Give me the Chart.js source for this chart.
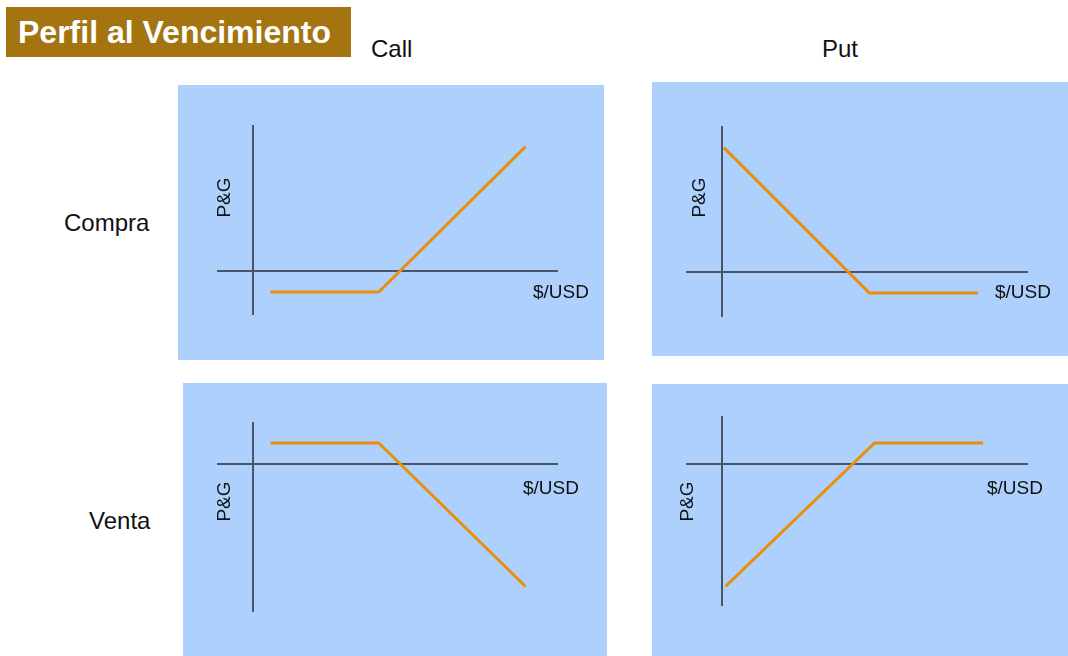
<!DOCTYPE html>
<html>
<head>
<meta charset="utf-8">
<script src="https://cdn.jsdelivr.net/npm/chart.js@4.4.0/dist/chart.umd.min.js"></script>
<style>
  body { margin: 0; background: #fff; width: 1068px; height: 656px; position: relative; overflow: hidden;
         font-family: "Liberation Sans", Arial, sans-serif; color: #111; }
  .lbl { position: absolute; line-height: 1; white-space: nowrap; }
  .title-box { position: absolute; left: 6px; top: 7px; width: 345px; height: 50px; background: #a3740f; }
  .title-box span { position: absolute; left: 12px; top: 9px; font-size: 32px; font-weight: bold; color: #fff; line-height: 1; white-space: nowrap; }
  canvas { position: absolute; background: #aed0fd; }
  .axis-x { font-size: 19px; }
  .axis-y { font-size: 19px; width: 60px; text-align: center; transform: rotate(-90deg); }
</style>
</head>
<body>
<div class="title-box"><span>Perfil al Vencimiento</span></div>
<div class="lbl" style="left:371px;top:37px;font-size:24px;">Call</div>
<div class="lbl" style="left:822px;top:37px;font-size:24px;">Put</div>
<div class="lbl" style="left:64px;top:211px;font-size:24px;">Compra</div>
<div class="lbl" style="left:89px;top:509px;font-size:24px;">Venta</div>

<canvas id="callBuy" width="426" height="275" style="left:178px;top:85px"></canvas>
<canvas id="putBuy" width="416" height="274" style="left:652px;top:82px"></canvas>
<canvas id="callSell" width="424" height="273" style="left:183px;top:383px"></canvas>
<canvas id="putSell" width="416" height="272" style="left:652px;top:384px"></canvas>

<div class="lbl axis-x" style="left:533px;top:282px">$/USD</div>
<div class="lbl axis-x" style="left:995px;top:282px">$/USD</div>
<div class="lbl axis-x" style="left:523px;top:478px">$/USD</div>
<div class="lbl axis-x" style="left:987px;top:478px">$/USD</div>

<div class="lbl axis-y" style="left:193px;top:188px">P&amp;G</div>
<div class="lbl axis-y" style="left:668px;top:188px">P&amp;G</div>
<div class="lbl axis-y" style="left:193px;top:492px">P&amp;G</div>
<div class="lbl axis-y" style="left:656px;top:492px">P&amp;G</div>

<script>
// payoff profiles at expiry (price -> P&G)
const callBuyX = [5, 36, 78];
const callBuyY = [-6, -6, 35.5];
const putBuyX = [0.5, 42, 73];
const putBuyY = [35.5, -6, -6];
const callSellX = [5, 36, 78];
const callSellY = [6, 6, -35];
const putSellX = [1, 43.5, 74.5];
const putSellY = [-35, 6, 6];

const axisColor = '#4b5567';
const lineColor = '#e8900c';

function toPoints(xs, ys) {
  return xs.map((x, i) => ({ x: x, y: ys[i] }));
}

function makeChart(id, xs, ys, yMin, yMax, pad) {
  const ctx = document.getElementById(id).getContext('2d');
  return new Chart(ctx, {
    type: 'scatter',
    data: {
      datasets: [{
        data: toPoints(xs, ys),
        showLine: true,
        borderColor: lineColor,
        borderWidth: 3,
        pointRadius: 0,
        tension: 0
      }]
    },
    options: {
      responsive: false,
      animation: false,
      devicePixelRatio: 1,
      layout: { padding: pad },
      plugins: { legend: { display: false }, tooltip: { enabled: false } },
      scales: {
        x: {
          type: 'linear',
          min: -10, max: 87,
          position: { y: 0 },
          grid: { display: false },
          ticks: { display: false },
          border: { color: axisColor, width: 2 }
        },
        y: {
          type: 'linear',
          min: yMin, max: yMax,
          position: { x: 0 },
          grid: { display: false },
          ticks: { display: false },
          border: { color: axisColor, width: 2 }
        }
      }
    }
  });
}

makeChart('callBuy', callBuyX, callBuyY, -12.3, 41.4, { left: 40, right: 47, top: 41, bottom: 46 });
makeChart('putBuy', putBuyX, putBuyY, -12.6, 41.4, { left: 35, right: 41, top: 45, bottom: 40 });
makeChart('callSell', callSellX, callSellY, -42, 11.7, { left: 35, right: 50, top: 40, bottom: 45 });
makeChart('putSell', putSellX, putSellY, -40.3, 13.4, { left: 35, right: 41, top: 33, bottom: 51 });
</script>
</body>
</html>
